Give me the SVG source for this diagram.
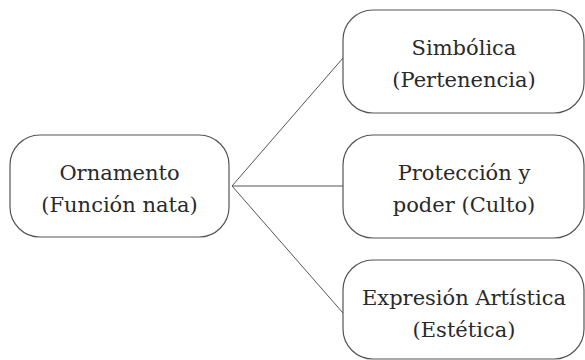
<svg xmlns="http://www.w3.org/2000/svg" width="585" height="360" viewBox="0 0 585 360">
<style>
.box{fill:#ffffff;stroke:#555555;stroke-width:1.2}
.t{font-family:"DejaVu Serif","Liberation Serif",serif;font-size:21px;fill:#2a2a2a;text-anchor:middle}
.c{stroke:#555555;stroke-width:1;fill:none}
</style>
<rect width="585" height="360" fill="#ffffff"/>
<g id="connectors">
<line class="c" x1="232" y1="186" x2="343" y2="58"/>
<line class="c" x1="232" y1="186" x2="343" y2="186"/>
<line class="c" x1="232" y1="186" x2="343" y2="313"/>
</g>
<g id="ornamento">
<rect class="box" x="10" y="135" width="219" height="102" rx="30" ry="30"/>
<text class="t" x="119.5" y="180">Ornamento</text>
<text class="t" x="119.5" y="212">(Función nata)</text>
</g>
<g id="simbolica">
<rect class="box" x="343" y="10" width="241" height="103" rx="30" ry="30"/>
<text class="t" x="464" y="55">Simbólica</text>
<text class="t" x="464" y="87">(Pertenencia)</text>
</g>
<g id="proteccion">
<rect class="box" x="343" y="135" width="241" height="103" rx="30" ry="30"/>
<text class="t" x="464" y="180">Protección y</text>
<text class="t" x="464" y="212">poder (Culto)</text>
</g>
<g id="expresion">
<rect class="box" x="343" y="260" width="241" height="99" rx="30" ry="30"/>
<text class="t" x="464" y="305">Expresión Artística</text>
<text class="t" x="464" y="337">(Estética)</text>
</g>
</svg>
